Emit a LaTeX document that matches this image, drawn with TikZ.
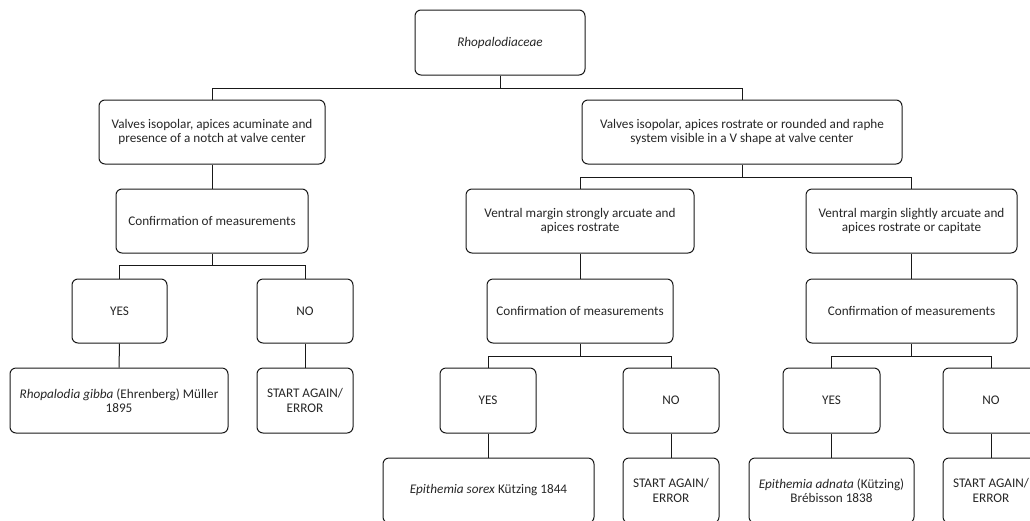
\documentclass[tikz,border=0pt]{standalone}
\usepackage{fontspec}
\setmainfont{Carlito}
\begin{document}
\begin{tikzpicture}[x=1pt,y=-1pt,
  box/.style={draw=black!90,line width=1pt,rounded corners=6pt,align=center,
    inner sep=0pt,text=black!85,font=\fontsize{13.2}{14.5}\selectfont},
  conn/.style={draw=black!90,line width=1pt}]
\useasboundingbox (0,0) rectangle (1030,520);
\clip (0,0) rectangle (1030,520);
% nodes
\node[box,minimum width=170,minimum height=65] (top) at (500,42.5) {\itshape Rhopalodiaceae};
\node[box,minimum width=226,minimum height=64] (L1) at (212,132) {Valves isopolar, apices acuminate and\\presence of a notch at valve center};
\node[box,minimum width=320,minimum height=64] (R1) at (742,132) {Valves isopolar, apices rostrate or rounded and raphe\\system visible in a V shape at valve center};
\node[box,minimum width=192,minimum height=64] (Lconf) at (212,221) {Confirmation of measurements};
\node[box,minimum width=228,minimum height=64] (M2) at (580,221) {Ventral margin strongly arcuate and\\apices rostrate};
\node[box,minimum width=211,minimum height=64] (R2) at (911.5,221) {Ventral margin slightly arcuate and\\apices rostrate or capitate};
\node[box,minimum width=186,minimum height=64] (Mconf) at (580,311) {Confirmation of measurements};
\node[box,minimum width=211,minimum height=64] (Rconf) at (911.5,311) {Confirmation of measurements};
\node[box,minimum width=95,minimum height=64] (Lyes) at (119.5,311) {YES};
\node[box,minimum width=96,minimum height=64] (Lno) at (305,311) {NO};
\node[box,minimum width=218,minimum height=65] (Lres) at (119,400.5) {\textit{Rhopalodia gibba} (Ehrenberg) Müller\\1895};
\node[box,minimum width=96,minimum height=65] (Lerr) at (305,400.5) {START AGAIN/\\ERROR};
\node[box,minimum width=96,minimum height=65] (Myes) at (488,400.5) {YES};
\node[box,minimum width=96,minimum height=65] (Mno) at (671,400.5) {NO};
\node[box,minimum width=97,minimum height=65] (Ryes) at (831.5,400.5) {YES};
\node[box,minimum width=96,minimum height=65] (Rno) at (991,400.5) {NO};
\node[box,minimum width=211,minimum height=65] (Mres) at (488.5,490.5) {\textit{Epithemia sorex} Kützing 1844};
\node[box,minimum width=96,minimum height=65] (Merr) at (671,490.5) {START AGAIN/\\ERROR};
\node[box,minimum width=165,minimum height=65] (Rres) at (831.5,490.5) {\textit{Epithemia adnata} (Kützing)\\Brébisson 1838};
\node[box,minimum width=96,minimum height=65] (Rerr) at (991,490.5) {START AGAIN/\\ERROR};
% bus points
\coordinate (b0) at (500,88);
\coordinate (bL) at (212,265);
\coordinate (bR) at (742,177);
\coordinate (bM) at (580,356);
\coordinate (bRR) at (911.5,356);
% connectors
\draw[conn] (top.south) -- (b0) -| (L1.north);
\draw[conn] (b0) -| (R1.north);
\draw[conn] (L1) -- (Lconf);
\draw[conn] (Lconf.south) -- (bL) -| (Lyes.north);
\draw[conn] (bL) -| (Lno.north);
\draw[conn] (Lyes) -- (Lres);
\draw[conn] (Lno) -- (Lerr);
\draw[conn] (R1.south) -- (bR) -| (M2.north);
\draw[conn] (bR) -| (R2.north);
\draw[conn] (M2) -- (Mconf);
\draw[conn] (R2) -- (Rconf);
\draw[conn] (Mconf.south) -- (bM) -| (Myes.north);
\draw[conn] (bM) -| (Mno.north);
\draw[conn] (Rconf.south) -- (bRR) -| (Ryes.north);
\draw[conn] (bRR) -| (Rno.north);
\draw[conn] (Myes.south) -- (Mres.north -| Myes.south);
\draw[conn] (Mno) -- (Merr);
\draw[conn] (Ryes) -- (Rres);
\draw[conn] (Rno) -- (Rerr);
\end{tikzpicture}
\end{document}
